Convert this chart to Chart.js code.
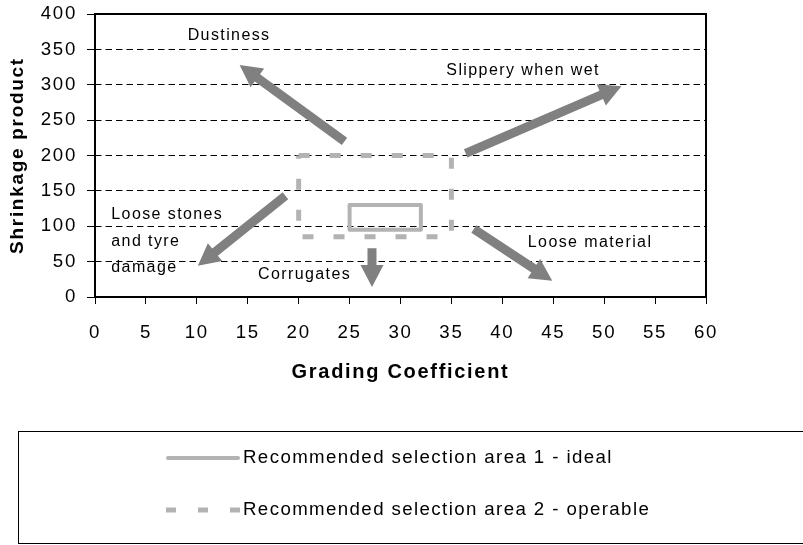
<!DOCTYPE html>
<html>
<head>
<meta charset="utf-8">
<title>Grading Coefficient vs Shrinkage product</title>
<script src="https://cdn.jsdelivr.net/npm/chart.js@4.4.0/dist/chart.umd.min.js"></script>
<style>
    html, body { margin: 0; padding: 0; background: #fff; }
    #wrap { width: 803px; height: 545px; }
</style>
</head>
<body>
<div id="wrap"><canvas id="gradingChart" width="803" height="545"></canvas></div>
<script>
// tick values
const xTickValues = [0, 5, 10, 15, 20, 25, 30, 35, 40, 45, 50, 55, 60];
const yTickValues = [0, 50, 100, 150, 200, 250, 300, 350, 400];

// selection areas (grading coefficient / shrinkage product)
const idealX = [25, 32, 32, 25, 25];
const idealY = [95, 95, 130, 130, 95];
const operableX = [20, 35, 35, 20, 20];
const operableY = [200, 200, 85, 85, 200];

// arrows, in data units: [fromX, fromY, toX, toY]
const arrowDustiness = [24.5, 220, 14.2, 328];
const arrowSlippery = [36.4, 203, 51.7, 298];
const arrowLooseStones = [18.7, 143, 10.1, 44];
const arrowCorrugates = [27.2, 69, 27.2, 14];
const arrowLooseMaterial = [37.2, 96, 44.9, 23];

// text notes
const noteTexts = ['Dustiness', 'Slippery when wet', ['Loose stones', 'and tyre', 'damage'], 'Corrugates', 'Loose material'];
const noteX = [9.1, 34.5, 1.6, 16.0, 42.5];
const noteY = [363, 314, 110, 25.4, 70.7];

const areaColor = '#b3b3b3';
const arrowColor = '#808080';
const fontFamily = "'Liberation Sans', Arial, sans-serif";
const spacing = '1.7px';

function toPoints(xs, ys) {
    return xs.map((x, i) => ({ x: x, y: ys[i] }));
}

function drawArrow(ctx, x1, y1, x2, y2) {
    const shaft = 9, headLen = 22, headW = 23;
    const ang = Math.atan2(y2 - y1, x2 - x1);
    const len = Math.hypot(x2 - x1, y2 - y1);
    ctx.save();
    ctx.translate(x1, y1);
    ctx.rotate(ang);
    ctx.fillStyle = arrowColor;
    ctx.beginPath();
    ctx.moveTo(0, -shaft / 2);
    ctx.lineTo(len - headLen, -shaft / 2);
    ctx.lineTo(len - headLen, -headW / 2);
    ctx.lineTo(len, 0);
    ctx.lineTo(len - headLen, headW / 2);
    ctx.lineTo(len - headLen, shaft / 2);
    ctx.lineTo(0, shaft / 2);
    ctx.closePath();
    ctx.fill();
    ctx.restore();
}

const spacingPlugin = {
    id: 'spacing',
    beforeUpdate(chart) { chart.ctx.letterSpacing = spacing; },
    beforeDraw(chart) { chart.ctx.letterSpacing = spacing; }
};

const notesPlugin = {
    id: 'notes',
    afterDatasetsDraw(chart) {
        const ctx = chart.ctx;
        const xs = chart.scales.x, ys = chart.scales.y;
        const arrows = [arrowDustiness, arrowSlippery, arrowLooseStones, arrowCorrugates, arrowLooseMaterial];
        arrows.forEach(a => {
            drawArrow(ctx, xs.getPixelForValue(a[0]), ys.getPixelForValue(a[1]),
                xs.getPixelForValue(a[2]), ys.getPixelForValue(a[3]));
        });

        ctx.save();
        ctx.letterSpacing = '1.4px';
        ctx.fillStyle = '#000';
        ctx.font = '16px ' + fontFamily;
        ctx.textAlign = 'left';
        ctx.textBaseline = 'alphabetic';
        noteTexts.forEach((t, i) => {
            const lines = Array.isArray(t) ? t : [t];
            const px = xs.getPixelForValue(noteX[i]);
            const py = ys.getPixelForValue(noteY[i]);
            lines.forEach((line, j) => ctx.fillText(line, px, py + j * 26.5));
        });
        ctx.restore();

        // plot frame
        const a = chart.chartArea;
        ctx.save();
        ctx.strokeStyle = '#000';
        ctx.lineWidth = 2;
        ctx.strokeRect(a.left, a.top, a.right - a.left, a.bottom - a.top);
        ctx.restore();
    }
};

const legendBoxPlugin = {
    id: 'legendBox',
    afterDraw(chart) {
        const ctx = chart.ctx;
        ctx.save();
        ctx.strokeStyle = '#000';
        ctx.lineWidth = 1;
        ctx.strokeRect(18.5, 431.5, 800, 112);

        const rowsY = [458, 510];
        chart.data.datasets.forEach((ds, i) => {
            const y = rowsY[i];
            const dashed = ds.borderDash.length > 0;
            ctx.beginPath();
            ctx.strokeStyle = ds.borderColor;
            ctx.lineWidth = dashed ? 5 : 4;
            ctx.lineCap = dashed ? 'butt' : 'round';
            ctx.setLineDash(dashed ? [10, 22] : []);
            ctx.moveTo(dashed ? 166 : 168, y);
            ctx.lineTo(dashed ? 240 : 238, y);
            ctx.stroke();
            ctx.setLineDash([]);

            ctx.letterSpacing = '1.4px';
            ctx.fillStyle = '#000';
            ctx.font = '18.67px ' + fontFamily;
            ctx.textAlign = 'left';
            ctx.textBaseline = 'middle';
            ctx.fillText(ds.label, 243, y);
        });
        ctx.restore();
    }
};

document.addEventListener('DOMContentLoaded', function() {
    const canvas = document.getElementById('gradingChart');

    Chart.defaults.font.family = fontFamily;
    Chart.defaults.color = '#000';

    new Chart(canvas, {
        type: 'scatter',
        data: {
            datasets: [
                {
                    label: 'Recommended selection area 1 - ideal',
                    data: toPoints(idealX, idealY),
                    showLine: true,
                    borderColor: areaColor,
                    borderWidth: 4,
                    borderDash: [],
                    borderJoinStyle: 'round',
                    pointRadius: 0,
                    tension: 0
                },
                {
                    label: 'Recommended selection area 2 - operable',
                    data: toPoints(operableX, operableY),
                    showLine: true,
                    borderColor: areaColor,
                    borderWidth: 5,
                    borderDash: [11, 20],
                    pointRadius: 0,
                    tension: 0
                }
            ]
        },
        options: {
            responsive: false,
            animation: false,
            devicePixelRatio: 1,
            layout: {
                padding: { left: 0, top: 14, right: 97, bottom: 148 }
            },
            plugins: {
                legend: { display: false },
                tooltip: { enabled: false }
            },
            scales: {
                x: {
                    type: 'linear',
                    min: 0,
                    max: 60,
                    afterBuildTicks: scale => { scale.ticks = xTickValues.map(v => ({ value: v })); },
                    afterFit: scale => {
                        scale.height = 100;
                        scale.paddingLeft = 0;
                        scale.paddingRight = 0;
                    },
                    grid: {
                        drawOnChartArea: false,
                        drawTicks: true,
                        tickLength: 7,
                        tickColor: '#000'
                    },
                    border: { display: false },
                    ticks: {
                        font: { size: 18.67 },
                        padding: 18,
                        maxRotation: 0
                    },
                    title: {
                        display: true,
                        text: 'Grading Coefficient',
                        font: { size: 20, weight: 'bold' },
                        padding: { top: 0, bottom: 13 }
                    }
                },
                y: {
                    type: 'linear',
                    min: 0,
                    max: 400,
                    afterBuildTicks: scale => { scale.ticks = yTickValues.map(v => ({ value: v })); },
                    afterFit: scale => {
                        scale.width = 95;
                        scale.paddingTop = 0;
                        scale.paddingBottom = 0;
                    },
                    grid: {
                        color: ctx => (ctx.tick && (ctx.tick.value === 0 || ctx.tick.value === 400)) ? 'rgba(0,0,0,0)' : '#000',
                        lineWidth: 1,
                        tickLength: 8,
                        tickColor: '#000',
                        tickBorderDash: []
                    },
                    border: { display: false, dash: [6.5, 4] },
                    ticks: {
                        font: { size: 18.67 },
                        padding: 10
                    },
                    title: {
                        display: true,
                        text: 'Shrinkage product',
                        font: { size: 19, weight: 'bold' },
                        padding: { top: 6, bottom: 0 }
                    }
                }
            }
        },
        plugins: [spacingPlugin, notesPlugin, legendBoxPlugin]
    });
});
</script>
</body>
</html>
